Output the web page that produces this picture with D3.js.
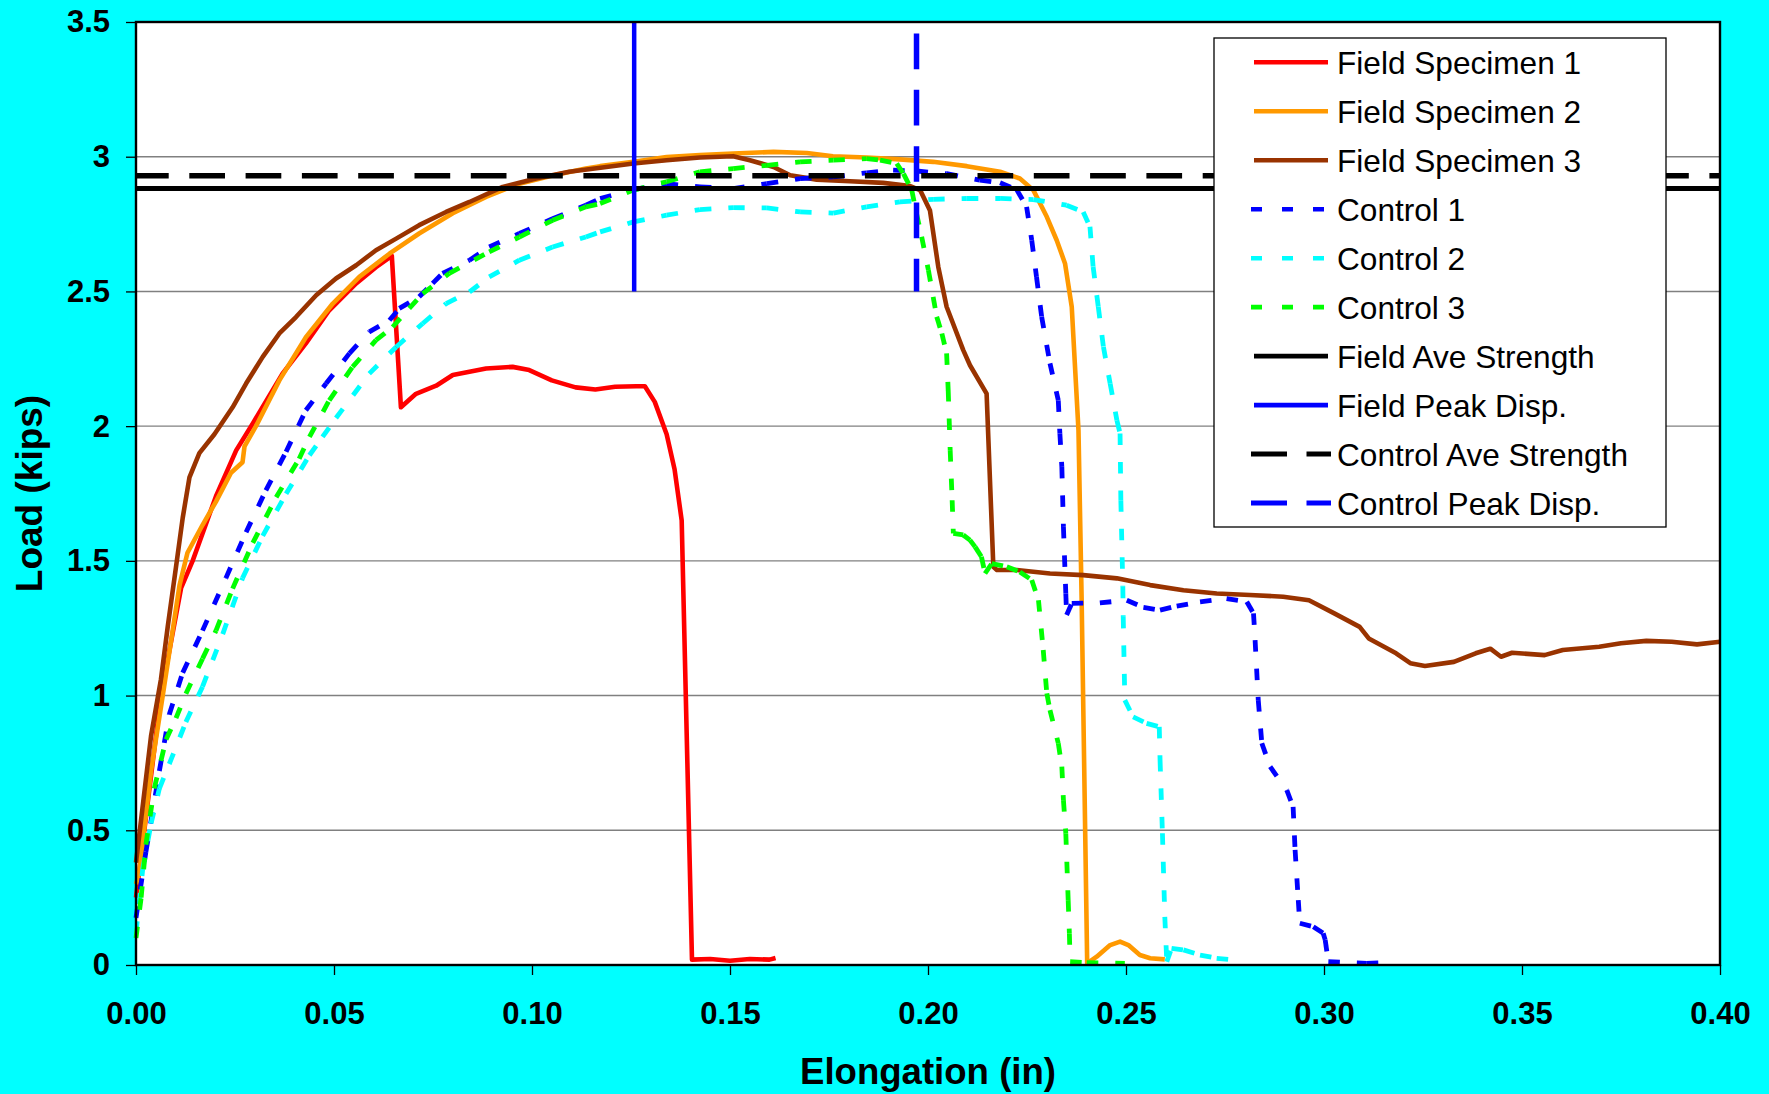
<!DOCTYPE html>
<html>
<head>
<meta charset="utf-8">
<script src="https://cdn.jsdelivr.net/npm/d3@7"></script>
<style>
  html, body { margin: 0; padding: 0; background: #00FFFF; }
  svg { display: block; }
  text { font-family: "Liberation Sans", Arial, sans-serif; }
</style>
</head>
<body>
<svg id="chart" width="1769" height="1094"></svg>
<script>
// ---------------- DATA ----------------
const xTicks = [0, 0.05, 0.10, 0.15, 0.20, 0.25, 0.30, 0.35, 0.40];
const xTickLabels = ["0.00", "0.05", "0.10", "0.15", "0.20", "0.25", "0.30", "0.35", "0.40"];
const yTicks = [0, 0.5, 1, 1.5, 2, 2.5, 3, 3.5];
const yTickLabels = ["0", "0.5", "1", "1.5", "2", "2.5", "3", "3.5"];

const seriesNames = ["Field Specimen 1", "Field Specimen 2", "Field Specimen 3",
  "Control 1", "Control 2", "Control 3",
  "Field Ave Strength", "Field Peak Disp.", "Control Ave Strength", "Control Peak Disp."];

const fieldSpecimen1 = [[0,0.25],[0.0021,0.5],[0.0063,1.0],[0.0114,1.40],[0.0143,1.50],[0.0202,1.74],[0.0253,1.91],[0.0295,2.01],[0.037,2.195],[0.0429,2.307],[0.0488,2.43],[0.0556,2.53],[0.0606,2.59],[0.0646,2.632],[0.0669,2.07],[0.0707,2.12],[0.0758,2.15],[0.08,2.19],[0.0884,2.214],[0.0951,2.22],[0.0993,2.208],[0.105,2.17],[0.111,2.144],[0.116,2.136],[0.121,2.146],[0.1263,2.148],[0.1285,2.148],[0.131,2.09],[0.134,1.97],[0.136,1.84],[0.1378,1.65],[0.1404,0.02],[0.145,0.022],[0.15,0.016],[0.155,0.022],[0.16,0.02],[0.1615,0.026]];

const fieldSpecimen2 = [[0,0.3],[0.0008,0.343],[0.0038,0.72],[0.0071,1.033],[0.011,1.41],[0.013,1.53],[0.0168,1.633],[0.0202,1.72],[0.024,1.827],[0.0269,1.866],[0.0274,1.925],[0.0303,2.0],[0.0362,2.17],[0.0429,2.33],[0.0497,2.455],[0.0564,2.554],[0.064,2.64],[0.0715,2.715],[0.08,2.79],[0.0884,2.851],[0.0968,2.90],[0.1052,2.93],[0.1136,2.956],[0.1172,2.965],[0.1256,2.981],[0.134,2.999],[0.1424,3.006],[0.1508,3.012],[0.161,3.018],[0.1694,3.014],[0.176,3.002],[0.1845,2.997],[0.1929,2.99],[0.2013,2.981],[0.2098,2.965],[0.2182,2.944],[0.2232,2.919],[0.2266,2.876],[0.23,2.777],[0.2325,2.69],[0.2346,2.604],[0.2363,2.443],[0.238,1.985],[0.2388,1.354],[0.2402,0.006],[0.2426,0.031],[0.246,0.074],[0.2485,0.087],[0.2506,0.074],[0.2535,0.037],[0.2561,0.025],[0.2598,0.021]];

const fieldSpecimen3 = [[0,0.38],[0.0038,0.85],[0.0063,1.06],[0.008,1.254],[0.0101,1.477],[0.0118,1.66],[0.0135,1.81],[0.016,1.90],[0.0198,1.97],[0.0244,2.07],[0.0278,2.158],[0.032,2.257],[0.0362,2.344],[0.0404,2.405],[0.0455,2.486],[0.0505,2.548],[0.0556,2.597],[0.0606,2.653],[0.0657,2.696],[0.0715,2.746],[0.0783,2.795],[0.0842,2.832],[0.0926,2.888],[0.101,2.919],[0.1094,2.944],[0.1178,2.96],[0.1256,2.975],[0.134,2.987],[0.1424,2.997],[0.1508,3.002],[0.155,2.987],[0.161,2.962],[0.1652,2.931],[0.1719,2.915],[0.1803,2.909],[0.1887,2.903],[0.1955,2.891],[0.198,2.876],[0.2005,2.80],[0.2026,2.591],[0.2047,2.443],[0.2089,2.282],[0.2106,2.226],[0.2148,2.121],[0.2165,1.478],[0.2174,1.466],[0.2224,1.466],[0.2308,1.453],[0.2392,1.447],[0.2477,1.435],[0.2561,1.41],[0.2645,1.391],[0.2729,1.379],[0.2813,1.373],[0.2897,1.367],[0.2962,1.354],[0.3026,1.305],[0.309,1.255],[0.3113,1.212],[0.3182,1.157],[0.3218,1.12],[0.3255,1.11],[0.3328,1.125],[0.3383,1.157],[0.342,1.174],[0.3447,1.144],[0.3475,1.159],[0.3557,1.15],[0.3603,1.169],[0.3695,1.181],[0.375,1.194],[0.3814,1.203],[0.3878,1.2],[0.3942,1.19],[0.40,1.2]];

const control1 = [[0,0.175],[0.0025,0.42],[0.0059,0.72],[0.0084,0.93],[0.0118,1.085],[0.0168,1.241],[0.0227,1.436],[0.0278,1.606],[0.0328,1.762],[0.0379,1.905],[0.0429,2.059],[0.048,2.158],[0.0539,2.27],[0.0589,2.35],[0.064,2.393],[0.0665,2.437],[0.0715,2.48],[0.0749,2.53],[0.0774,2.567],[0.0842,2.616],[0.0892,2.665],[0.0968,2.715],[0.1052,2.77],[0.1136,2.82],[0.1172,2.845],[0.1256,2.878],[0.134,2.90],[0.1424,2.888],[0.1508,2.882],[0.1593,2.90],[0.1677,2.919],[0.1761,2.925],[0.1845,2.94],[0.1912,2.95],[0.1971,2.947],[0.2047,2.937],[0.2131,2.913],[0.2182,2.903],[0.2224,2.878],[0.2249,2.814],[0.2262,2.69],[0.2274,2.554],[0.2287,2.406],[0.2308,2.233],[0.2329,2.096],[0.2333,1.973],[0.2338,1.849],[0.2342,1.626],[0.2348,1.379],[0.235,1.299],[0.2363,1.342],[0.2434,1.344],[0.2502,1.354],[0.2544,1.327],[0.2586,1.317],[0.2628,1.332],[0.2687,1.348],[0.2754,1.36],[0.2805,1.348],[0.2822,1.305],[0.2826,1.206],[0.2834,0.983],[0.2843,0.823],[0.2864,0.736],[0.2906,0.649],[0.2922,0.587],[0.2927,0.427],[0.2935,0.241],[0.2939,0.155],[0.2973,0.142],[0.2998,0.118],[0.3003,0.093],[0.3011,0.012],[0.3108,0.006],[0.3171,0.009]];

const control2 = [[0,0.12],[0.0017,0.356],[0.0038,0.525],[0.0059,0.655],[0.0084,0.746],[0.0126,0.902],[0.0168,1.033],[0.0219,1.228],[0.0269,1.436],[0.032,1.593],[0.0379,1.749],[0.0438,1.892],[0.0471,1.96],[0.0505,2.03],[0.0589,2.195],[0.0657,2.294],[0.0724,2.381],[0.0783,2.455],[0.0842,2.498],[0.0892,2.554],[0.0968,2.616],[0.1052,2.665],[0.1136,2.702],[0.1172,2.721],[0.1256,2.758],[0.134,2.783],[0.1424,2.804],[0.1508,2.811],[0.1593,2.81],[0.1677,2.795],[0.1761,2.791],[0.1845,2.814],[0.1929,2.832],[0.2013,2.842],[0.2098,2.845],[0.2182,2.845],[0.2266,2.841],[0.235,2.82],[0.2392,2.795],[0.2409,2.74],[0.2417,2.591],[0.243,2.443],[0.2443,2.294],[0.246,2.158],[0.2477,2.022],[0.2485,1.973],[0.2487,1.725],[0.2492,1.404],[0.2493,1.292],[0.2497,0.983],[0.2518,0.921],[0.2552,0.897],[0.2584,0.884],[0.2586,0.761],[0.2592,0.489],[0.2598,0.179],[0.2603,0.012],[0.2615,0.062],[0.2645,0.056],[0.2687,0.037],[0.2729,0.025],[0.2771,0.019]];

const control3 = [[0,0.1],[0.0013,0.25],[0.0025,0.447],[0.0046,0.655],[0.0076,0.837],[0.0101,0.916],[0.0126,1.007],[0.0168,1.137],[0.0202,1.241],[0.0244,1.397],[0.0295,1.567],[0.0354,1.736],[0.0412,1.879],[0.0438,1.96],[0.0488,2.096],[0.0547,2.22],[0.0606,2.319],[0.0648,2.368],[0.069,2.437],[0.0724,2.492],[0.0791,2.567],[0.0892,2.647],[0.0968,2.702],[0.1052,2.764],[0.1136,2.814],[0.1172,2.826],[0.1256,2.876],[0.134,2.907],[0.1424,2.944],[0.1508,2.956],[0.1593,2.968],[0.1677,2.981],[0.1761,2.987],[0.1845,2.993],[0.1879,2.987],[0.1921,2.975],[0.1938,2.937],[0.1959,2.876],[0.1971,2.789],[0.1984,2.703],[0.2001,2.579],[0.2013,2.48],[0.2022,2.406],[0.2035,2.344],[0.2047,2.27],[0.2051,2.134],[0.2056,1.911],[0.2061,1.725],[0.2064,1.602],[0.2089,1.596],[0.2106,1.577],[0.2119,1.552],[0.2135,1.515],[0.2144,1.453],[0.2161,1.49],[0.2199,1.478],[0.2232,1.459],[0.2262,1.429],[0.2279,1.354],[0.2291,1.169],[0.23,1.008],[0.2308,0.946],[0.2329,0.823],[0.2338,0.736],[0.2342,0.612],[0.2348,0.489],[0.2354,0.241],[0.2357,0.118],[0.2359,0.012],[0.2401,0.009],[0.2497,0.006]];

const fieldAveStrength = [[0, 2.882], [0.40, 2.882]];
const fieldPeakDisp = [[0.1258, 2.5], [0.1258, 3.5]];
const controlAveStrength = [[0, 2.929], [0.40, 2.929]];
const controlPeakDisp = [[0.1971, 2.5], [0.1971, 3.5]];

// ---------------- LAYOUT / STYLE ----------------
const W = 1769, H = 1094;
const plot = { left: 136, right: 1720, top: 22, bottom: 965 };
const FONT = '"Liberation Sans", Arial, sans-serif';

const svg = d3.select("#chart");
svg.append("rect").attr("width", W).attr("height", H).attr("fill", "#00FFFF");

const x = d3.scaleLinear().domain([0, 0.40]).range([plot.left, plot.right]);
const y = d3.scaleLinear().domain([0, 3.5]).range([plot.bottom, plot.top]);

// plot area
svg.append("rect")
  .attr("x", plot.left).attr("y", plot.top)
  .attr("width", plot.right - plot.left).attr("height", plot.bottom - plot.top)
  .attr("fill", "#FFFFFF");

// gridlines
svg.append("g").selectAll("line")
  .data(yTicks.filter(v => v > 0 && v < 3.5))
  .join("line")
  .attr("x1", plot.left).attr("x2", plot.right)
  .attr("y1", d => y(d)).attr("y2", d => y(d))
  .attr("stroke", "#808080").attr("stroke-width", 1.4);

// axes
const xAxis = d3.axisBottom(x).tickValues(xTicks)
  .tickFormat((d, i) => xTickLabels[i]).tickSize(10).tickPadding(27);
const yAxis = d3.axisLeft(y).tickValues(yTicks)
  .tickFormat((d, i) => yTickLabels[i]).tickSize(10).tickPadding(16);

const gx = svg.append("g").attr("transform", `translate(0,${plot.bottom})`).call(xAxis);
const gy = svg.append("g").attr("transform", `translate(${plot.left},0)`).call(yAxis);
[gx, gy].forEach(g => {
  g.select(".domain").remove();
  g.selectAll(".tick line").attr("stroke", "#000").attr("stroke-width", 1.3);
  g.selectAll(".tick text")
    .attr("fill", "#000")
    .style("font-family", FONT).style("font-size", "31px").style("font-weight", "bold");
});

// series
const line = d3.line().x(d => x(d[0])).y(d => y(d[1]));
const seriesG = svg.append("g");

function solidSeries(data, color, width) {
  seriesG.append("path").datum(data)
    .attr("d", line).attr("fill", "none")
    .attr("stroke", color).attr("stroke-width", width)
    .attr("stroke-linejoin", "round");
}
// dotted series: pattern restarts on every segment (as in the original rendering)
function dottedSeries(data, color, width) {
  seriesG.append("g").selectAll("line")
    .data(d3.pairs(data))
    .join("line")
    .attr("x1", d => x(d[0][0])).attr("y1", d => y(d[0][1]))
    .attr("x2", d => x(d[1][0])).attr("y2", d => y(d[1][1]))
    .attr("stroke", color).attr("stroke-width", width)
    .attr("stroke-dasharray", "11.5,17");
}
function dashedSeries(data, color, width) {
  seriesG.append("path").datum(data)
    .attr("d", line).attr("fill", "none")
    .attr("stroke", color).attr("stroke-width", width)
    .attr("stroke-dasharray", "35.7,20.6").attr("stroke-dashoffset", 3);
}

solidSeries(fieldSpecimen1, "#FF0000", 4.6);
solidSeries(fieldSpecimen2, "#FF9900", 4.6);
solidSeries(fieldSpecimen3, "#993300", 4.6);
dottedSeries(control1, "#0000FF", 4.8);
dottedSeries(control2, "#00FFFF", 4.8);
dottedSeries(control3, "#00FF00", 4.8);
solidSeries(fieldAveStrength, "#000000", 5);
solidSeries(fieldPeakDisp, "#0000FF", 4.5);
dashedSeries(controlAveStrength, "#000000", 5.5);
dashedSeries(controlPeakDisp, "#0000FF", 5.5);

// plot border
svg.append("rect")
  .attr("x", plot.left).attr("y", plot.top)
  .attr("width", plot.right - plot.left).attr("height", plot.bottom - plot.top)
  .attr("fill", "none").attr("stroke", "#000").attr("stroke-width", 2.4);

// legend
const legendBox = { x: 1214, y: 38, w: 452, h: 489 };
const legendStyles = [
  { color: "#FF0000", kind: "solid" },
  { color: "#FF9900", kind: "solid" },
  { color: "#993300", kind: "solid" },
  { color: "#0000FF", kind: "dot" },
  { color: "#00FFFF", kind: "dot" },
  { color: "#00FF00", kind: "dot" },
  { color: "#000000", kind: "solid" },
  { color: "#0000FF", kind: "solid" },
  { color: "#000000", kind: "dash" },
  { color: "#0000FF", kind: "dash" }
];
const lg = svg.append("g");
lg.append("rect")
  .attr("x", legendBox.x).attr("y", legendBox.y)
  .attr("width", legendBox.w).attr("height", legendBox.h)
  .attr("fill", "#FFFFFF").attr("stroke", "#000").attr("stroke-width", 1.3);

const rowY = i => 62.3 + i * 48.97;
const items = lg.selectAll("g.item").data(seriesNames).join("g").attr("class", "item");
items.append("line")
  .attr("x1", (d, i) => legendStyles[i].kind === "solid" ? 1254 : 1251)
  .attr("x2", (d, i) => legendStyles[i].kind === "solid" ? 1328 : (legendStyles[i].kind === "dot" ? 1324 : 1331))
  .attr("y1", (d, i) => rowY(i)).attr("y2", (d, i) => rowY(i))
  .attr("stroke", (d, i) => legendStyles[i].color)
  .attr("stroke-width", (d, i) => legendStyles[i].kind === "dash" ? 5 : 4.6)
  .attr("stroke-dasharray", (d, i) => legendStyles[i].kind === "dot" ? "11,20" : (legendStyles[i].kind === "dash" ? "36,19.5" : null));
items.append("text")
  .attr("x", 1337).attr("y", (d, i) => rowY(i) + 12)
  .style("font-family", FONT).style("font-size", "31.6px")
  .attr("fill", "#000")
  .text(d => d);

// axis titles
svg.append("text")
  .attr("x", (plot.left + plot.right) / 2).attr("y", 1084)
  .attr("text-anchor", "middle")
  .style("font-family", FONT).style("font-size", "36.6px").style("font-weight", "bold")
  .text("Elongation (in)");
svg.append("text")
  .attr("transform", `translate(42,${(plot.top + plot.bottom) / 2}) rotate(-90)`)
  .attr("text-anchor", "middle")
  .style("font-family", FONT).style("font-size", "37px").style("font-weight", "bold")
  .text("Load (kips)");
</script>
</body>
</html>
